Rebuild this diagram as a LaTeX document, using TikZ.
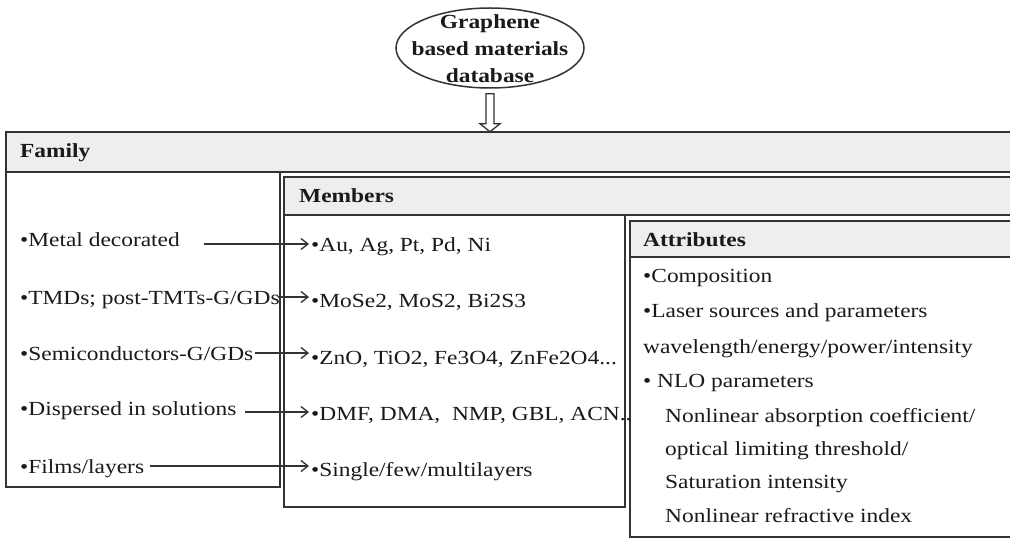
\documentclass[tikz,border=0pt]{standalone}
\usepackage{fontspec}
\setmainfont{Liberation Serif}[FakeStretch=1.17]
\usetikzlibrary{arrows.meta,shapes.geometric,calc}
\definecolor{ln}{HTML}{333333}
\definecolor{hd}{HTML}{EEEEEE}
\definecolor{tx}{HTML}{1A1A1A}
\begin{document}
\begin{tikzpicture}[x=1pt,y=-1pt,
  font=\fontsize{20}{24}\selectfont, text=tx,
  box/.style={draw=ln, line width=1.8pt},
  hdr/.style={box, fill=hd},
  item/.style={anchor=base west, inner sep=2pt},
  title/.style={anchor=base west, inner sep=2pt, font=\fontsize{20}{24}\selectfont\bfseries},
  arr/.style={draw=ln, line width=1.3pt, -{Straight Barb[length=7pt,width=11pt,line width=1.3pt]}},
  hollow/.style={draw=ln, line width=1.3pt, fill=white}]
\clip (0,0) rectangle (1010,540);
\fill[white] (0,0) rectangle (1010,540);

% database ellipse
\node[ellipse, draw=ln, line width=1.5pt, minimum width=188pt, minimum height=80pt, inner sep=0pt] (db) at (490,48) {};
\node[align=center, inner sep=0pt, font=\fontsize{20}{27}\selectfont\bfseries] (dbt) at ([yshift=-1pt]db.center)
  {Graphene\\based materials\\database};
\draw[hollow] ($(db.south)+(-4,5)$) -- ++(0,30) -- ++(-6,0) -- ++(10,8) -- ++(10,-8) -- ++(-6,0) -- ++(0,-30) -- cycle;

% Family box
\draw[box] (6,172) rectangle (280,487);
\draw[hdr] (6,132) rectangle (1020,172);
\node[title] (famT) at (18,158) {Family};

% Members box
\draw[box] (284,215) rectangle (625,507);
\draw[hdr] (284,177) rectangle (1020,215);
\node[title] (memT) at (297,203) {Members};

% Attributes box
\draw[box] (630,257) rectangle (1020,537);
\draw[hdr] (630,221) rectangle (1020,257);
\node[title] (attT) at (641,247) {Attributes};

% family items
\node[item] (f1) at (18,247) {•Metal decorated};
\node[item] (f2) at (18,305) {•TMDs; post-TMTs-G/GDs};
\node[item] (f3) at (18,360) {•Semiconductors-G/GDs};
\node[item] (f4) at (18,415) {•Dispersed in solutions};
\node[item] (f5) at (18,473) {•Films/layers};

% member items
\node[item] (m1) at (309,252) {•Au, Ag, Pt, Pd, Ni};
\node[item] (m2) at (309,308) {•MoSe2, MoS2, Bi2S3};
\node[item] (m3) at (309,364) {•ZnO, TiO2, Fe3O4, ZnFe2O4...};
\node[item] (m4) at (309,420) {•DMF, DMA,\ \ NMP, GBL, ACN..};
\node[item] (m5) at (309,476) {•Single/few/multilayers};

% arrows
\coordinate (t1) at ([yshift=8pt]m1.base west);
\coordinate (t2) at ([yshift=11pt]m2.base west);
\coordinate (t3) at ([yshift=11pt]m3.base west);
\coordinate (t4) at ([yshift=8pt]m4.base west);
\coordinate (t5) at ([yshift=10pt]m5.base west);
\draw[arr] ([xshift=22pt]f1.east |- t1) -- (t1);
\draw[arr] ([xshift=-4pt]f2.east |- t2) -- (t2);
\draw[arr] ([xshift=0pt]f3.east |- t3) -- (t3);
\draw[arr] ([xshift=6pt]f4.east |- t4) -- (t4);
\draw[arr] ([xshift=4pt]f5.east |- t5) -- (t5);

% attributes
\node[item] (a1) at (641,283) {•Composition};
\node[item] (a2) at (641,318) {•Laser sources and parameters};
\node[item] (a3) at (641,353) {wavelength/energy/power/intensity};
\node[item] (a4) at (641,387) {• NLO parameters};
\node[item] (a5) at (663,422) {Nonlinear absorption coefficient/};
\node[item] (a6) at (663,455) {optical limiting threshold/};
\node[item] (a7) at (663,488) {Saturation intensity};
\node[item] (a8) at (663,522) {Nonlinear refractive index};
\end{tikzpicture}
\end{document}
